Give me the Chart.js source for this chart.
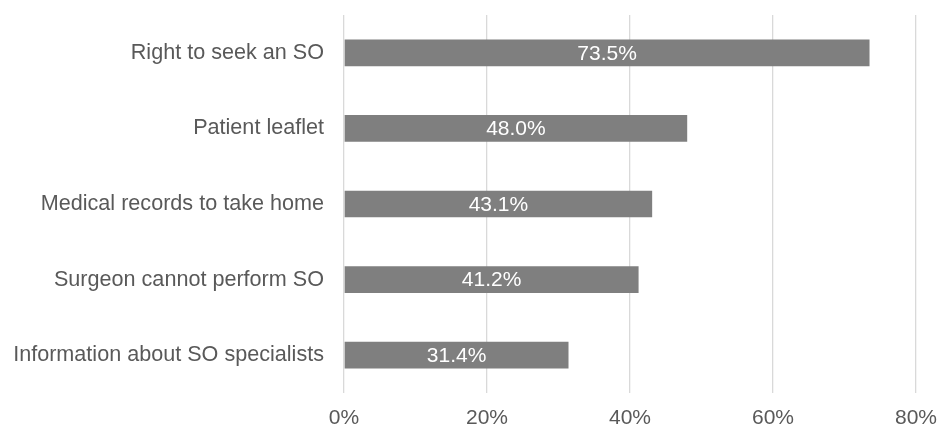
<!DOCTYPE html>
<html>
<head>
<meta charset="utf-8">
<script src="https://cdn.jsdelivr.net/npm/chart.js@4.4.0/dist/chart.umd.min.js"></script>
<style>
  html, body { margin: 0; padding: 0; background: #fff; }
  #wrap { width: 938px; height: 429px; }
</style>
</head>
<body>
<div id="wrap"><canvas id="so-chart" width="938" height="429"></canvas></div>
<script>
    // data
    const categories = [
        'Right to seek an SO',
        'Patient leaflet',
        'Medical records to take home',
        'Surgeon cannot perform SO',
        'Information about SO specialists'
    ];
    const shares = [73.5, 48.0, 43.1, 41.2, 31.4];
    const tickValues = [0, 20, 40, 60, 80];

    const FONT = '"Liberation Sans", Arial, sans-serif';
    const TEXT = '#595959';

    // white value label in the middle of each bar
    const barLabels = {
        id: 'barLabels',
        afterDatasetsDraw(chart) {
            const ctx = chart.ctx;
            const meta = chart.getDatasetMeta(0);
            ctx.save();
            ctx.font = '21px ' + FONT;
            ctx.fillStyle = '#ffffff';
            ctx.textAlign = 'center';
            ctx.textBaseline = 'middle';
            meta.data.forEach((bar, i) => {
                const { x, y, base } = bar.getProps(['x', 'y', 'base'], true);
                ctx.fillText(shares[i].toFixed(1) + '%', (x + base) / 2, y + 1);
            });
            ctx.restore();
        }
    };

    function initChart() {
        const ctx = document.getElementById('so-chart').getContext('2d');
        new Chart(ctx, {
            type: 'bar',
            data: {
                labels: categories,
                datasets: [{
                    data: shares,
                    backgroundColor: '#7f7f7f',
                    barPercentage: 0.353,
                    categoryPercentage: 1
                }]
            },
            options: {
                indexAxis: 'y',
                responsive: false,
                animation: false,
                layout: { padding: { top: 15, left: 0, right: 22, bottom: 0 } },
                plugins: { legend: { display: false }, tooltip: { enabled: false } },
                scales: {
                    x: {
                        min: tickValues[0],
                        max: tickValues[tickValues.length - 1],
                        afterBuildTicks: s => { s.ticks = tickValues.map(v => ({ value: v })); },
                        afterFit: s => {
                            s.height = 36;
                            s.paddingLeft = 0; s.paddingRight = 0;
                        },
                        grid: { color: '#d9d9d9', lineWidth: 1.3, drawTicks: false },
                        border: { display: false },
                        ticks: {
                            padding: 13,
                            color: TEXT,
                            font: { family: FONT, size: 21 },
                            callback: v => v + '%'
                        }
                    },
                    y: {
                        afterFit: s => {
                            s.width = 344;
                            s.paddingTop = 0; s.paddingBottom = 0;
                        },
                        grid: { display: false, drawTicks: false },
                        border: { display: false },
                        ticks: {
                            padding: 20,
                            color: TEXT,
                            font: { family: FONT, size: 21.6 }
                        }
                    }
                }
            },
            plugins: [barLabels]
        });
    }
    requestAnimationFrame(initChart);
</script>
</body>
</html>
